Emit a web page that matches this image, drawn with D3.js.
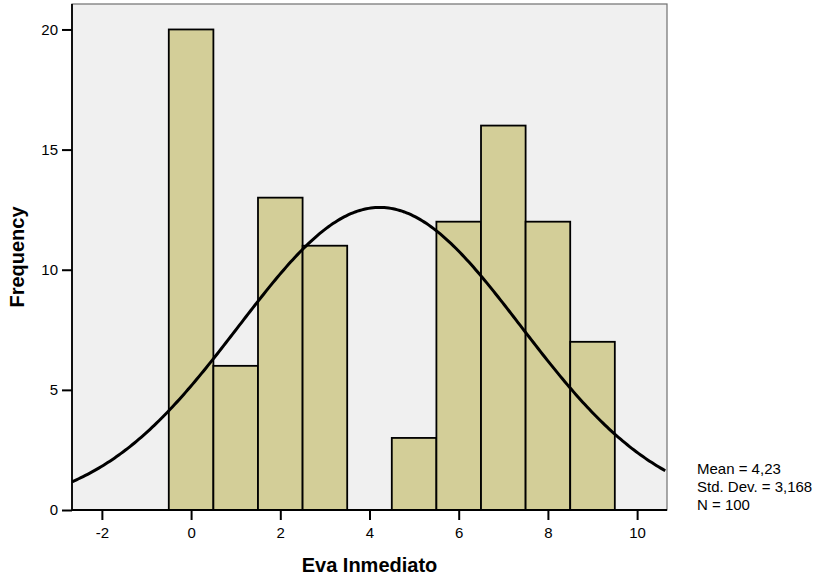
<!DOCTYPE html>
<html><head><meta charset="utf-8">
<script src="https://cdn.jsdelivr.net/npm/d3@7"></script>
<style>body{margin:0;background:#fff}svg{display:block}text{font-family:"Liberation Sans",Arial,sans-serif}</style>
</head><body><svg id="c" width="830" height="581"></svg>
<script>
const binCenters = [0,1,2,3,4,5,6,7,8,9];
const frequencies = [20,6,13,11,0,3,12,16,12,7];
const xTicks = [-2,0,2,4,6,8,10];
const yTicks = [0,5,10,15,20];
const statsLines = ["Mean = 4,23","Std. Dev. = 3,168","N = 100"];
const meanVal = 4.23, sdVal = 3.168, nVal = 100, binWidth = 1;

const svg = d3.select("#c");
const L = 72, R = 667, T = 4, B = 510;
const x = d3.scaleLinear().domain([-2.67, 10.67]).range([L, R]);
const y = d3.scaleLinear().domain([0, 21.06]).range([B, T]);

svg.append("rect").attr("x", L).attr("y", T).attr("width", R - L).attr("height", B - T)
  .attr("fill", "#f0f0f0").attr("stroke", "#707070").attr("stroke-width", 1.2);

svg.append("defs").append("clipPath").attr("id", "clip")
  .append("rect").attr("x", L).attr("y", T).attr("width", R - L).attr("height", B - T);

svg.append("g").selectAll("rect").data(binCenters.map((c, i) => ({c, f: frequencies[i]})).filter(d => d.f > 0))
  .join("rect")
  .attr("x", d => x(d.c - binWidth / 2)).attr("width", d => x(d.c + binWidth / 2) - x(d.c - binWidth / 2))
  .attr("y", d => y(d.f)).attr("height", d => y(0) - y(d.f))
  .attr("fill", "#d3ce98").attr("stroke", "#000").attr("stroke-width", 1.8);

const pdf = v => nVal * binWidth / (sdVal * Math.sqrt(2 * Math.PI)) * Math.exp(-0.5 * ((v - meanVal) / sdVal) ** 2);
const xs = d3.range(-2.67, 10.68, 0.05);
svg.append("path").datum(xs).attr("clip-path", "url(#clip)")
  .attr("d", d3.line().x(v => x(v)).y(v => y(pdf(v))))
  .attr("fill", "none").attr("stroke", "#000").attr("stroke-width", 3);

const fmt = v => String(v);
const xa = svg.append("g").attr("transform", `translate(0,${B})`)
  .call(d3.axisBottom(x).tickValues(xTicks).tickFormat(fmt).tickSize(10).tickPadding(7).tickSizeOuter(0));
const ya = svg.append("g").attr("transform", `translate(${L},0)`)
  .call(d3.axisLeft(y).tickValues(yTicks).tickFormat(fmt).tickSize(10).tickPadding(4).tickSizeOuter(0));
[xa, ya].forEach(a => {
  a.select(".domain").attr("stroke", "#000").attr("stroke-width", 1.8);
  a.selectAll(".tick line").attr("stroke", "#000").attr("stroke-width", 2);
  a.selectAll(".tick text").attr("fill", "#000").style("font-size", "15px");
});
xa.select(".domain").attr("d", `M${L},0H${R}`);
ya.select(".domain").attr("d", `M0,${B}V${T}`);

svg.append("text").attr("x", (L + R) / 2).attr("y", 572).attr("text-anchor", "middle")
  .style("font-size", "20px").style("font-weight", "bold").text("Eva Inmediato");
svg.append("text").attr("transform", `translate(24,${(T + B) / 2}) rotate(-90)`).attr("text-anchor", "middle")
  .style("font-size", "20px").style("font-weight", "bold").text("Frequency");

svg.append("g").selectAll("text").data(statsLines).join("text")
  .attr("x", 697).attr("y", (d, i) => 474 + i * 18).style("font-size", "15px").text(d => d);
</script></body></html>
